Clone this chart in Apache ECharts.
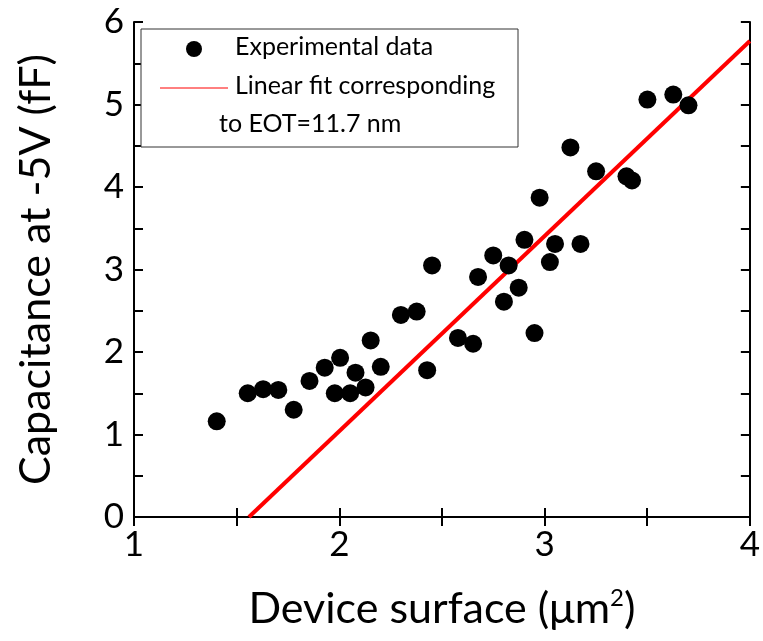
<!DOCTYPE html>
<html><head><meta charset="utf-8">
<script src="https://cdn.jsdelivr.net/npm/echarts@6/dist/echarts.min.js"></script>
<style>html,body{margin:0;padding:0;background:#fff}#c{width:763px;height:641px}</style>
</head><body><div id="c"></div>
<script>
const surface = [1.403,1.554,1.629,1.703,1.778,1.855,1.929,1.978,2.004,2.053,2.079,2.128,2.153,2.202,2.300,2.377,2.428,2.452,2.578,2.652,2.676,2.750,2.802,2.825,2.874,2.902,2.951,2.976,3.026,3.051,3.126,3.175,3.251,3.399,3.426,3.501,3.627,3.701];
const capacitance = [1.16,1.50,1.55,1.54,1.30,1.65,1.81,1.50,1.93,1.50,1.75,1.57,2.14,1.82,2.45,2.49,1.78,3.05,2.17,2.10,2.91,3.17,2.61,3.05,2.78,3.36,2.23,3.87,3.09,3.31,4.48,3.31,4.19,4.13,4.08,5.06,5.12,4.99];
const fitX = [1.56, 4.0];
const fitY = [0, 5.77];
const xTicks = [1,2,3,4];
const yTicks = [0,1,2,3,4,5,6];
const FONT = 'Lato';

const chart = echarts.init(document.getElementById('c'));
function frame(extra){
  const base = {
    axisLine:{show:true,lineStyle:{color:'#000',width:2}},
    axisTick:{show:true,inside:false,length:-9,lineStyle:{color:'#000',width:2}},
    minorTick:{show:true,splitNumber:2,length:-9,lineStyle:{color:'#000',width:2}},
    splitLine:{show:false}
  };
  return Object.assign(JSON.parse(JSON.stringify(base)), extra);
}
chart.setOption({
  animation:false,
  grid:{left:134,right:12,top:22,bottom:124,containLabel:false},
  xAxis:[
    frame({type:'value',min:xTicks[0],max:xTicks[xTicks.length-1],interval:1,position:'bottom',
      axisLabel:{color:'#000',fontSize:35,fontFamily:FONT,margin:10},
      name:'Device surface (μm{sup|2})',nameLocation:'middle',nameGap:69,
      nameTextStyle:{color:'#000',fontSize:43,fontFamily:FONT,rich:{sup:{fontSize:24,verticalAlign:'top',padding:[0,0,22,0],fontFamily:FONT,color:'#000'}}}
    }),
    frame({type:'value',min:1,max:4,interval:1,position:'top',axisLabel:{show:false}})
  ],
  yAxis:[
    frame({type:'value',min:yTicks[0],max:yTicks[yTicks.length-1],interval:1,position:'left',
      axisLabel:{color:'#000',fontSize:35,fontFamily:FONT,margin:10},
      name:'Capacitance at -5V (fF)',nameLocation:'middle',nameGap:76,
      nameTextStyle:{color:'#000',fontSize:43,fontFamily:FONT}
    }),
    frame({type:'value',min:0,max:6,interval:1,position:'right',axisLabel:{show:false}})
  ],
  series:[
    {type:'line',data:fitX.map((x,i)=>[x,fitY[i]]),symbol:'none',lineStyle:{color:'#ff0000',width:4},z:2},
    {type:'scatter',data:surface.map((x,i)=>[x,capacitance[i]]),symbol:'circle',symbolSize:18,itemStyle:{color:'#000',opacity:1},z:3}
  ],
  graphic:[
    {type:'rect',shape:{x:141,y:29,width:377,height:118},style:{fill:'#fff',stroke:'#333',lineWidth:1},z:10},
    {type:'circle',shape:{cx:194,cy:49,r:8},style:{fill:'#000'},z:11},
    {type:'line',shape:{x1:160,y1:88,x2:228,y2:88},style:{stroke:'#ff0000',lineWidth:1},z:11},
    {type:'text',left:235,top:34,style:{text:'Experimental data',font:'25px '+FONT,fill:'#000'},z:11},
    {type:'text',left:235,top:73,style:{text:'Linear fit corresponding',font:'25px '+FONT,fill:'#000'},z:11},
    {type:'text',left:219,top:111,style:{text:'to EOT=11.7 nm',font:'25px '+FONT,fill:'#000'},z:11}
  ]
});
</script></body></html>
